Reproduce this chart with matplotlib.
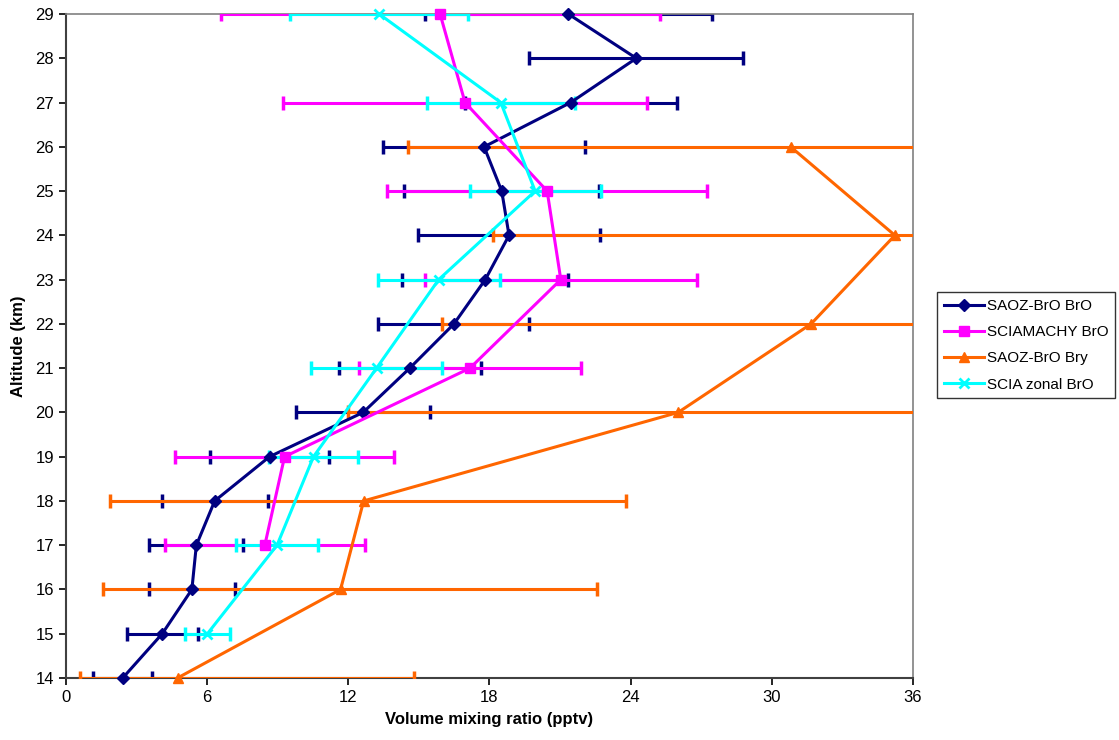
import matplotlib.pyplot as plt

plt.rcParams["font.family"] = ["Liberation Sans", "DejaVu Sans"]

# SAOZ-BrO BrO profile (every km)
alt_saoz = [29, 28, 27, 26, 25, 24, 23, 22, 21, 20, 19, 18, 17, 16, 15, 14]
saoz_bro = [21.35, 24.24, 21.45, 17.77, 18.52, 18.83, 17.82, 16.49,
            14.61, 12.63, 8.65, 6.32, 5.54, 5.35, 4.09, 2.41]
saoz_err = [6.1, 4.55, 4.5, 4.3, 4.15, 3.88, 3.53, 3.21,
            3.02, 2.84, 2.53, 2.25, 2.0, 1.83, 1.5, 1.25]

# SCIAMACHY BrO
alt_sciam = [29, 27, 25, 23, 21, 19, 17]
sciam_bro = [15.9, 16.96, 20.45, 21.03, 17.17, 9.29, 8.45]
sciam_err = [9.33, 7.72, 6.81, 5.77, 4.7, 4.65, 4.26]

# SAOZ-BrO Bry (asymmetric errors)
alt_bry = [26, 24, 22, 20, 18, 16, 14]
saoz_bry = [30.8, 35.23, 31.67, 26.02, 12.65, 11.67, 4.74]
bry_err_lo = [16.27, 17.1, 15.7, 14.05, 10.78, 10.08, 4.14]
bry_err_hi = [16.27, 17.1, 15.7, 14.05, 11.17, 10.9, 10.07]

# SCIA zonal BrO
alt_zonal = [29, 27, 25, 23, 21, 19, 17, 15]
zonal_bro = [13.31, 18.48, 19.94, 15.84, 13.2, 10.52, 8.97, 6.01]
zonal_err = [3.79, 3.14, 2.79, 2.6, 2.8, 1.91, 1.75, 0.96]

NAVY = "#000080"
MAGENTA = "#FF00FF"
ORANGE = "#FF6600"
CYAN = "#00FFFF"

fig = plt.figure(figsize=(11.19, 7.4), dpi=100)
ax = fig.add_axes([66 / 1119, 1 - 678 / 740, (913 - 66) / 1119, (678 - 14) / 740])

ebkw = dict(fmt="none", elinewidth=2.2, capsize=5, capthick=2.5, clip_on=True)

series = [
    (saoz_bro, alt_saoz, saoz_err, NAVY, "D", 6, "SAOZ-BrO BrO"),
    (sciam_bro, alt_sciam, sciam_err, MAGENTA, "s", 7, "SCIAMACHY BrO"),
    (saoz_bry, alt_bry, [bry_err_lo, bry_err_hi], ORANGE, "^", 7.5, "SAOZ-BrO Bry"),
    (zonal_bro, alt_zonal, zonal_err, CYAN, "x", 7, "SCIA zonal BrO"),
]

handles = []
for i, (x, y, err, col, mk, ms, lab) in enumerate(series):
    ax.errorbar(x, y, xerr=err, ecolor=col, zorder=2 + i, **ebkw)
    h, = ax.plot(x, y, color=col, lw=2.2, marker=mk, ms=ms, mew=2 if mk == "x" else 1,
                 label=lab, zorder=6 + i, clip_on=False)
    handles.append(h)

ax.set_xlim(0, 36)
ax.set_ylim(14, 29)
ax.set_xticks(range(0, 37, 6))
ax.set_yticks(range(14, 30))
ax.tick_params(direction="out", length=5, width=1.2, labelsize=12)
ax.set_xlabel("Volume mixing ratio (pptv)", fontsize=12, fontweight="bold", labelpad=5)
ax.set_ylabel("Altitude (km)", fontsize=12, fontweight="bold", labelpad=7)

for side in ["top", "right"]:
    ax.spines[side].set_color("#808080")
    ax.spines[side].set_linewidth(1.2)
for side in ["left", "bottom"]:
    ax.spines[side].set_color("#404040")
    ax.spines[side].set_linewidth(1.5)

leg = fig.legend(handles=handles, loc="upper left",
                 bbox_to_anchor=(937 / 1119, 1 - 292 / 740),
                 fontsize=11, frameon=True, fancybox=False, edgecolor="black",
                 handlelength=2.6, handletextpad=0.2, borderpad=0.45,
                 labelspacing=0.8, borderaxespad=0)
leg.get_frame().set_linewidth(1.0)

fig.savefig("out.png", dpi=100)
plt.close(fig)
